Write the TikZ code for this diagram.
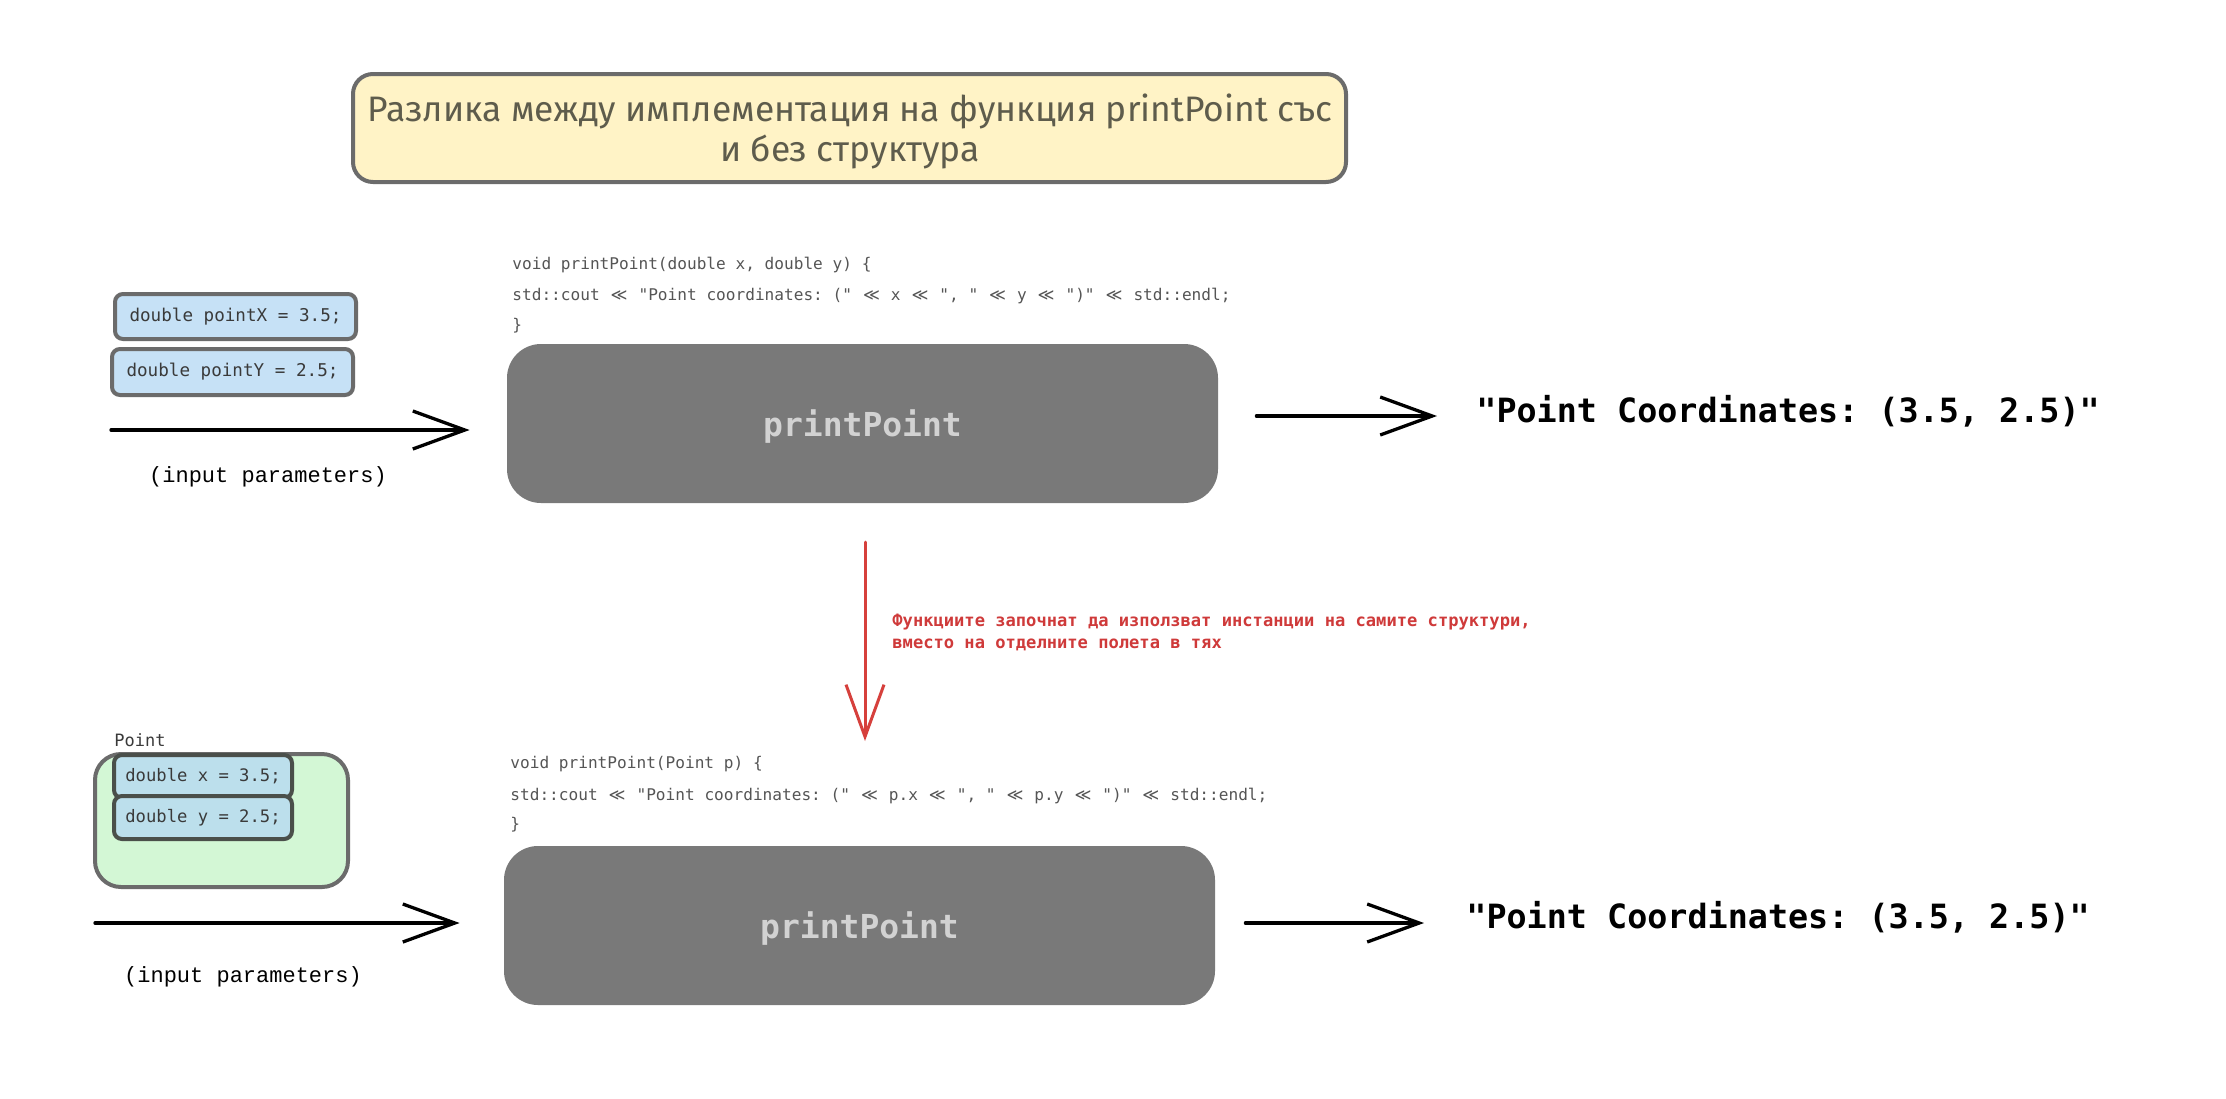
\documentclass[tikz,border=0pt]{standalone}
\usepackage{fontspec}
\setmainfont{Fira Sans}
\setmonofont{DejaVu Sans Mono}
\newfontfamily\titlefont{Fira Sans}
\newfontfamily\libmono{Liberation Mono}
\newfontfamily\djsans{DejaVu Sans}
\usetikzlibrary{arrows.meta}
\definecolor{titlefill}{HTML}{FFF3C6}
\definecolor{edge}{HTML}{6B6B6B}
\definecolor{edgeB}{HTML}{4A4F4A}
\definecolor{titletext}{HTML}{5E5C4C}
\definecolor{codetext}{HTML}{555555}
\definecolor{vartext}{HTML}{3A3A3A}
\definecolor{blueA}{HTML}{C6E1F6}
\definecolor{blueB}{HTML}{BCDFEC}
\definecolor{greenF}{HTML}{D3F7D5}
\definecolor{fnfill}{HTML}{797979}
\definecolor{fntext}{HTML}{D2D2D2}
\definecolor{redline}{HTML}{D6403C}
\definecolor{redtext}{HTML}{CF3A3A}
\newcommand\shl{\makebox[1.204em]{\djsans ≪}}
\tikzset{
  titlebox/.style={draw=edge, line width=2pt, fill=titlefill, rounded corners=10pt, inner sep=0pt},
  titlelbl/.style={text=titletext, align=center, inner sep=0pt,
    font=\titlefont\fontsize{17.7}{20}\selectfont},
  varbox/.style={draw=edge, line width=2pt, fill=blueA, rounded corners=4pt, inner sep=0pt,
    text=vartext, font=\ttfamily\fontsize{8.8}{10}\selectfont},
  varboxB/.style={draw=edgeB, line width=2pt, fill=blueB, rounded corners=4pt, inner sep=0pt,
    text=vartext, font=\ttfamily\fontsize{8.6}{10}\selectfont},
  structbox/.style={draw=edge, line width=2pt, fill=greenF, rounded corners=13pt, inner sep=0pt},
  fnbox/.style={fill=fnfill, rounded corners=17pt, inner sep=0pt, minimum width=355.5pt,
    minimum height=79.5pt},
  fnlbl/.style={inner sep=0pt, text=fntext, yshift=-1.5pt,
    font=\ttfamily\bfseries\fontsize{16.5}{18}\selectfont},
  codeline/.style={anchor=west, inner sep=0pt, text=codetext, text height=0.8em, text depth=0.25em,
    font=\ttfamily\fontsize{8.06}{10}\selectfont},
  outtext/.style={anchor=west, inner sep=0pt, text=black, text height=0.8em, text depth=0.25em,
    font=\ttfamily\bfseries\fontsize{16.7}{18}\selectfont},
  paramtext/.style={inner sep=0pt, text=black, font=\libmono\fontsize{11}{13}\selectfont},
  arr/.style={line width=1.65pt, black, line cap=round, line join=round,
    -{Straight Barb[length=26pt, width=19pt, line width=1.65pt]}},
  redarr/.style={line width=1.5pt, redline, line cap=round, line join=round,
    -{Straight Barb[length=26pt, width=19pt, line width=1.5pt]}},
}
\begin{document}
\begin{tikzpicture}[x=0.5pt, y=-0.5pt]
\fill[white] (0,0) rectangle (2226,1098);
\useasboundingbox (0,0) rectangle (2226,1098);

% title
\node[titlebox, minimum width=496.5pt, minimum height=54pt] (title) at (849.5,128) {};
\node[titlelbl] (titletxt) at (850,131)
  {Разлика между имплементация на функция printPoint със\\и без структура};

% ---------- top row ----------
\node[codeline] (c1a) at (512,264) {void printPoint(double x, double y) \{};
\node[codeline] (c1b) at (512,295) {std::cout \shl{} "Point coordinates: (" \shl{} x \shl{} ", " \shl{} y \shl{} ")" \shl{} std::endl;};
\node[codeline] (c1c) at (512,325) {\}};

\node[varbox, minimum width=120.5pt, minimum height=22.5pt] (px) at (235.5,316.5) {double pointX = 3.5;};
\node[varbox, minimum width=120.5pt, minimum height=23pt] (py) at (232.5,372) {double pointY = 2.5;};

\node[fnbox] (fn1) at (862.5,423.5) {};
\node[fnlbl] (fn1lbl) at (fn1.center) {printPoint};

\coordinate (in1) at (111,430);
\draw[arr, shorten >=18.5pt] (in1) -- (in1 -| fn1.west);
\node[paramtext] (par1) at (268,477) {(input parameters)};

\node[outtext] (out1) at (1476,417) {"Point Coordinates: (3.5, 2.5)"};
\coordinate (o1) at (1437,416);
\draw[arr, shorten <=19pt] (fn1.east |- o1) -- (o1);

% ---------- transition ----------
\coordinate (r1) at (865,542);
\coordinate (r2) at (865,741);
\draw[redarr] (r1) -- (r2);
\node[anchor=west, inner sep=0pt, align=left, text=redtext,
  font=\ttfamily\bfseries\fontsize{8.55}{11}\selectfont] (note) at (892,632)
  {Функциите започнат да използват инстанции на самите структури,\\вместо на отделните полета в тях};

% ---------- bottom row ----------
\node[codeline] (c2a) at (510,763) {void printPoint(Point p) \{};
\node[codeline] (c2b) at (510,795) {std::cout \shl{} "Point coordinates: (" \shl{} p.x \shl{} ", " \shl{} p.y \shl{} ")" \shl{} std::endl;};
\node[codeline] (c2c) at (510,824) {\}};

\node[anchor=west, inner sep=0pt, text=vartext, font=\ttfamily\fontsize{8.5}{10}\selectfont] (ptlabel) at (114,740) {Point};
\node[structbox, minimum width=126.5pt, minimum height=66.5pt] (pt) at (221.5,820.5) {};
\node[varboxB, minimum width=89pt, minimum height=21.5pt] (vx) at (203,776.5) {double x = 3.5;};
\node[varboxB, minimum width=89pt, minimum height=21.5pt] (vy) at (203,817.5) {double y = 2.5;};

\node[fnbox] (fn2) at (859.5,925.5) {};
\node[fnlbl] (fn2lbl) at (fn2.center) {printPoint};

\coordinate (in2) at (95,923);
\draw[arr, shorten >=22pt] (in2) -- (in2 -| fn2.west);
\node[paramtext] (par2) at (243,977) {(input parameters)};

\node[outtext] (out2) at (1466,923) {"Point Coordinates: (3.5, 2.5)"};
\coordinate (o2) at (1424,923);
\draw[arr, shorten <=15pt] (fn2.east |- o2) -- (o2);
\end{tikzpicture}
\end{document}
